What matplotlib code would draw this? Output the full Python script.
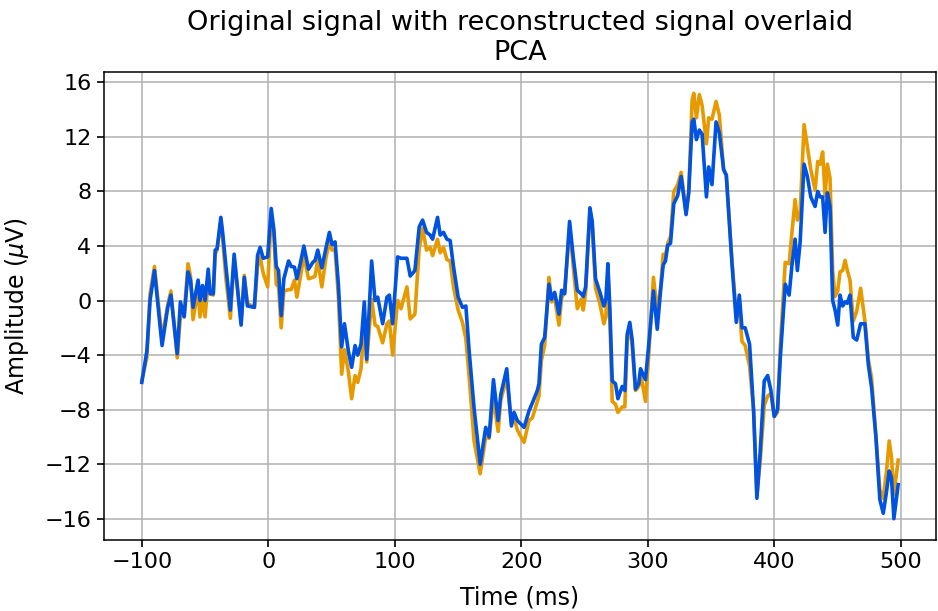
import numpy as np
import matplotlib.pyplot as plt

# time axis (ms) and amplitudes (uV) for the original and reconstructed signals
times = [
    -100, -96, -93.5, -90, -84, -79.5, -77, -72, -69.5, -66.5, -63.5, -61.5, -59.5,
    -55.5, -54, -52, -50, -47.5, -46, -43.5, -42, -40.5, -37.5, -36, -33.5, -30,
    -27, -21.5, -19, -16.5, -11, -8.5, -6.5, -4, -0.5, 2.3, 4.4, 6.3, 8.1, 10.2,
    12.3, 16, 18.1, 20.7, 22.6, 25.5, 28.1, 31.8, 35.2, 37, 39.1, 42.3, 45.7, 48.3,
    50.4, 52.8, 55.4, 58, 60.2, 63.3, 65.9, 68.6, 70.7, 73.3, 75.9, 77.8, 81.7,
    84.4, 86.5, 90.4, 93.8, 95.7, 98.3, 102.2, 104.9, 109.6, 112.2, 115.9, 119.3,
    122, 125.1, 128, 129.9, 133.8, 135.9, 138.5, 141.2, 143.8, 146.4, 150.1, 153.5,
    156.2, 158.8, 162.7, 167.5, 171.9, 174.6, 178, 181.7, 183.8, 188.5, 192.2,
    194.3, 196.9, 202.2, 206.1, 208.8, 212.7, 214, 215.9, 218.5, 221.9, 224, 226.4,
    229.8, 231.9, 234.3, 238.2, 241.1, 244.3, 247.4, 249, 250.9, 254.3, 256.1,
    258.7, 262.2, 265.3, 266.9, 268.5, 270.1, 271.9, 274.5, 276.4, 279.8, 281.9,
    283.7, 285.8, 287.7, 290.3, 292.9, 294.3, 298.2, 300.8, 304.5, 307.5, 310.1,
    312.2, 314, 315.8, 318, 320.6, 323.7, 326.4, 330.3, 332.4, 335.1, 336.4, 338.5,
    340.8, 343, 346.4, 348.2, 350.8, 354, 356.6, 360, 362.1, 366.6, 370, 372.4,
    374.5, 377, 380.5, 383.7, 386.3, 388.9, 392.1, 394.8, 397.4, 400, 402.6, 404.8,
    408.7, 411.8, 413.9, 416.5, 418.3, 420.5, 423.6, 426.2, 428.9, 432.3, 434.4,
    436.2, 438.3, 440.2, 442, 444.1, 446.2, 448.1, 450.2, 452, 454.1, 456, 457.8,
    459.9, 462.5, 465.2, 468.3, 471.7, 474.4, 477, 480.4, 483.5, 486.2, 488.8,
    490.9, 492.7, 494.6, 498,
]

original = [
    -5.8, -4.2, 0.5, 2.5, -2.8, -0.3, 0.7, -4.2, -1.2, -1.0, 2.7, 1.8, -1.4,
    0.8, -1.2, 0.2, -1.2, 1.5, 0.5, 0.4, 3.4, 3.7, 5.9, 4.4, 1.6, -1.3,
    3.1, -1.6, 1.85, -0.2, -0.5, 2.5, 3.2, 2.0, 1.0, 6.3, 4.9, 1.2, 1.0, -2.0,
    0.7, 0.8, 0.8, 1.5, 0.25, 1.8, 3.3, 1.6, 1.7, 1.8, 3.0, 1.0, 3.2, 4.3,
    3.7, 3.7, 0.3, -5.4, -3.6, -5.2, -7.2, -5.5, -6.0, -5.0, -1.5, -4.5, 0.1,
    -1.8, -1.9, -3.1, -1.7, -1.5, -4.0, 0.0, -0.6, 1.0, -1.35, -1.0, 3.8,
    5.3, 3.7, 3.9, 3.3, 4.5, 3.5, 3.9, 3.0, 2.9, 1.0, -0.7, -1.6,
    -2.8, -5.6, -10.3, -12.7, -10.0, -10.1, -7.1, -9.6, -7.3, -5.65, -9.0,
    -8.6, -9.5, -10.4, -8.8, -8.6, -7.4, -7.0, -4.4, -3.3, 1.7, -0.1, 0.2,
    -1.8, 0.2, 0.6, 5.4, 2.5, -0.6, 0.1, -0.7, 0.6, 6.7, 5.5,
    0.9, -0.25, -1.7, -1.2, 2.0, -1.5, -7.4, -7.6, -8.2, -7.8, -7.8,
    -3.0, -1.9, -3.3, -6.6, -6.3, -5.3, -7.4, -4.0, 1.7, -0.8, 0.9,
    3.4, 3.3, 4.2, 4.7, 8.0, 8.5, 9.4, 6.5, 8.0, 14.7, 15.2, 13.4,
    15.1, 14.3, 11.5, 13.4, 13.3, 14.6, 13.6, 9.6, 9.2, 2.9, -1.0, -0.5,
    -3.0, -3.3, -4.8, -8.1, -14.3, -11.8, -7.7, -7.0, -6.8, -8.5, -8.2, -3.4,
    2.8, 2.7, 4.9, 7.4, 5.9, 6.5, 12.9, 11.3, 9.6, 8.1, 10.2,
    10.0, 10.9, 7.7, 10.0, 9.0, 2.2, 0.3, 0.7, 2.1, 2.2, 2.95, 2.2,
    1.5, -1.5, -0.8, 0.9, -1.5, -4.3, -5.7, -10.0, -13.9, -14.5, -12.5,
    -10.3, -11.5, -14.2, -11.7,
]

reconstructed = [
    -6.0, -3.7, 0.0, 2.2, -3.3, -0.5, 0.4, -3.9, -0.1, -1.2, 2.1, 1.5, -0.5,
    1.5, 0.0, 1.1, 0.0, 2.3, 0.5, 0.5, 3.7, 3.8, 6.1, 4.9, 2.5, -0.7,
    3.4, -1.8, 1.7, -0.4, -0.5, 3.3, 3.9, 3.1, 3.2, 6.75, 5.2, 2.5, 2.2, -1.1,
    1.6, 2.9, 2.5, 2.45, 1.6, 2.8, 4.0, 2.3, 2.8, 2.95, 3.7, 2.4, 3.9, 5.0,
    4.1, 4.3, 1.2, -3.4, -1.7, -3.7, -4.9, -3.3, -4.0, -3.2, -0.1, -4.3, 2.9,
    0.0, 0.25, -1.7, 0.25, 0.4, -1.7, 3.2, 3.1, 3.1, 1.8, 2.2, 5.4,
    5.9, 5.0, 4.8, 4.5, 6.1, 4.8, 5.0, 4.5, 4.4, 2.5, 0.25, -0.5,
    -0.4, -3.7, -7.9, -12.0, -9.3, -10.0, -5.8, -8.8, -6.9, -5.0, -9.2,
    -8.2, -8.8, -9.3, -8.1, -7.5, -6.6, -6.1, -3.2, -2.7, 1.2, 0.1, 0.6,
    -1.0, 0.75, 0.5, 5.8, 3.2, 0.75, 0.5, 0.3, 1.0, 6.8, 5.8,
    1.6, 0.6, -0.4, 0.1, 2.7, -0.7, -5.9, -6.1, -7.2, -6.3, -6.6,
    -2.5, -1.6, -2.9, -6.5, -6.1, -5.0, -5.8, -3.2, 0.7, -2.1, 0.7,
    2.6, 2.9, 4.05, 4.2, 7.1, 7.7, 9.1, 6.3, 7.9, 13.1, 13.3, 11.8,
    12.5, 12.2, 7.6, 9.8, 8.5, 13.1, 12.3, 9.6, 9.2, 2.7, -1.6, 0.4,
    -2.0, -2.0, -3.2, -8.1, -14.5, -11.1, -5.9, -5.5, -6.6, -8.5, -8.0, -4.2,
    1.2, 0.4, 2.5, 4.5, 2.2, 4.3, 10.0, 9.1, 7.6, 6.9, 8.0,
    7.6, 7.6, 5.0, 7.9, 6.9, 0.0, -0.7, -1.8, 0.4, -0.4, -0.1, -0.2,
    0.4, -2.7, -2.9, -1.7, -1.7, -4.7, -6.4, -10.0, -14.6, -15.6, -14.0,
    -12.5, -13.0, -16.0, -13.5,
]

plt.rcParams['font.size'] = 16

fig = plt.figure(figsize=(9.38, 6.11), dpi=100)
ax = fig.add_axes([104 / 938, 71 / 611, 832 / 938, 468 / 611])

ax.plot(times, original, color='#e69a00', lw=2.6)
ax.plot(times, reconstructed, color='#0052e0', lw=2.6)

ax.set_yticks(np.arange(-16, 17, 4))
ax.set_xticks(np.arange(-100, 501, 100))
ax.tick_params(labelsize=16, length=5, width=1.2, pad=4)
for s in ax.spines.values():
    s.set_linewidth(1.1)
ax.grid(True, color='#b0b0b0', lw=1.1)
ax.set_axisbelow(True)

ax.set_xlabel('Time (ms)', fontsize=17, labelpad=9)
ax.set_ylabel(r'Amplitude ($\mu$V)', fontsize=17, labelpad=10)
ax.set_title('Original signal with reconstructed signal overlaid\nPCA', fontsize=19.5, pad=9)

fig.savefig('out.png', dpi=100)
